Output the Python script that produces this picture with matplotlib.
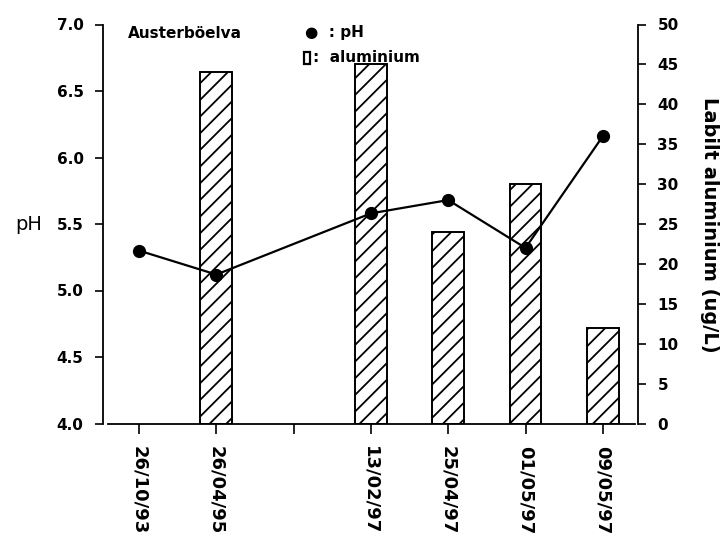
import matplotlib
matplotlib.use("Agg")
import matplotlib.pyplot as plt
from matplotlib.patches import Rectangle

plt.rcParams["font.family"] = ["DejaVu Sans"]
plt.rcParams["hatch.linewidth"] = 1.3

# sampling dates along the x axis (empty slot has a tick but no label)
tick_labels = ["26/10/93", "26/04/95", "", "13/02/97", "25/04/97", "01/05/97", "09/05/97"]
ph_idx = [0, 1, 3, 4, 5, 6]
ph_values = [5.30, 5.12, 5.58, 5.68, 5.32, 6.16]
al_idx = [1, 3, 4, 5, 6]
al_values = [44, 45, 24, 30, 12]

W, H = 723, 541


def fx(px):
    return px / W


def fy(py):
    return 1 - py / H


def main():
    fig = plt.figure(figsize=(W / 100, H / 100), dpi=100)
    ax1 = fig.add_axes([fx(103), fy(423.5), fx(638) - fx(103), fy(24.5) - fy(423.5)])
    ax2 = ax1.twinx()

    # bars on the aluminium axis, drawn below the pH line
    ax2.bar(al_idx, al_values, width=0.41, color="white", edgecolor="black",
            linewidth=1.4, hatch="//")
    ax1.set_zorder(ax2.get_zorder() + 1)
    ax1.patch.set_visible(False)

    ax1.plot(ph_idx, ph_values, color="black", linewidth=1.6, marker="o",
             markersize=8.5, markerfacecolor="black", markeredgecolor="black")

    ax1.set_xlim(-0.466, 6.455)
    ax1.set_ylim(4.0, 7.0)
    ax2.set_ylim(0, 50)

    ax1.set_yticks([4.0, 4.5, 5.0, 5.5, 6.0, 6.5, 7.0])
    ax1.set_yticklabels([f"{v:.1f}" for v in ax1.get_yticks()],
                        fontsize=11, fontweight="bold")
    ax2.set_yticks(range(0, 51, 5))
    ax2.set_yticklabels([str(v) for v in range(0, 51, 5)],
                        fontsize=11, fontweight="bold")
    ax1.set_xticks(range(len(tick_labels)))
    ax1.set_xticklabels(tick_labels, rotation=270, fontsize=13,
                        fontweight="bold", va="top", ha="center")

    ax1.tick_params(axis="y", direction="out", length=6, width=1.2, pad=8)
    ax1.tick_params(axis="x", direction="out", length=7, width=1.2, pad=9)
    ax2.tick_params(axis="y", direction="out", length=6, width=1.2, pad=8)

    for s in ["top", "right"]:
        ax1.spines[s].set_visible(False)
    for s in ["top", "left", "bottom"]:
        ax2.spines[s].set_visible(False)
    ax1.spines["left"].set_linewidth(1.3)
    ax1.spines["bottom"].set_linewidth(1.3)
    ax1.spines["bottom"].set_bounds(-0.40, 6.41)
    ax2.spines["right"].set_linewidth(1.3)

    fig.text(fx(29), fy(224), "pH", fontsize=14, ha="center", va="center")
    fig.text(fx(709), fy(225), "Labilt aluminium (ug/L)", fontsize=14,
             fontweight="bold", rotation=270, ha="center", va="center")

    # legend block written as plain text, like the original
    fig.text(fx(128), fy(33), "Austerböelva", fontsize=11, fontweight="bold",
             ha="left", va="center")
    fig.text(fx(305), fy(33), "●  : pH", fontsize=11, fontweight="bold",
             ha="left", va="center")
    fig.add_artist(Rectangle((fx(304), fy(64)), fx(6), fy(52) - fy(64),
                             transform=fig.transFigure, facecolor="white",
                             edgecolor="black", linewidth=1.6))
    fig.text(fx(313), fy(58), ":  aluminium", fontsize=11, fontweight="bold",
             ha="left", va="center")

    fig.savefig("out.png", dpi=100)


if __name__ == "__main__":
    main()
